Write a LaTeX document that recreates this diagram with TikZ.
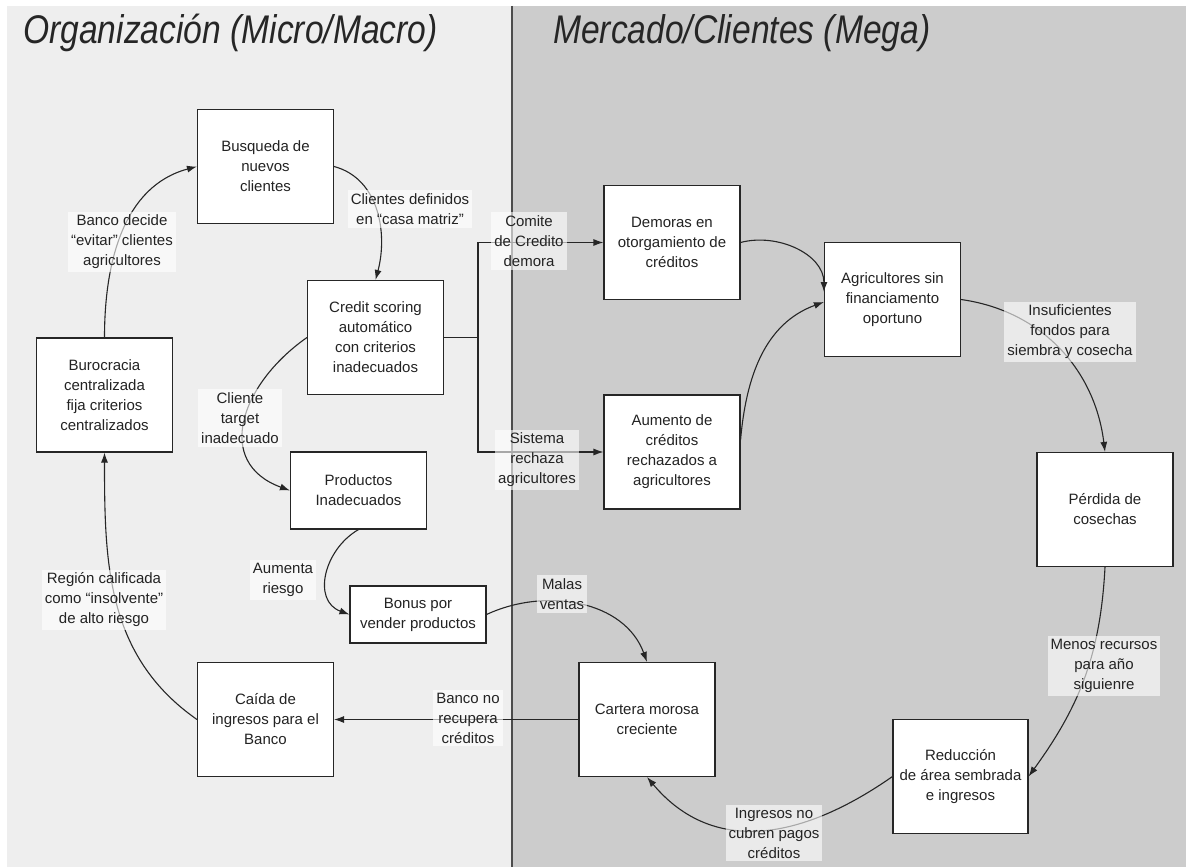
\documentclass[tikz,border=0pt]{standalone}
\usepackage{fontspec}
\setmainfont{Liberation Sans}
\newfontfamily\titlefont{Liberation Sans}[FakeStretch=0.84]
\usetikzlibrary{arrows.meta}
\definecolor{panelL}{RGB}{238,238,238}
\definecolor{panelR}{RGB}{204,204,204}
\definecolor{ink}{RGB}{35,35,35}
\tikzset{
  box/.style={draw=black!85, line width=1.1pt, fill=white, minimum width=136pt,
    minimum height=114pt, align=center, text=ink, inner sep=2pt,
    font=\fontsize{15}{20}\selectfont},
  lbl/.style={fill=white, fill opacity=0.6, text opacity=1, align=center, text=ink,
    inner sep=3pt, font=\fontsize{15}{20}\selectfont},
  link/.style={line width=1.1pt, draw=black!85, -{Latex[length=10pt,width=7pt]}},
  title/.style={anchor=base west, inner sep=0pt, text=black!85,
    font=\titlefont\itshape\fontsize{40}{44}\selectfont}
}
\begin{document}
\begin{tikzpicture}[x=1pt,y=1pt]
\useasboundingbox (0,0) rectangle (1186,-867);
\fill[white] (0,0) rectangle (1186,-867);
\fill[panelL] (7,-6) rectangle (512,-867);
\fill[panelR] (512,-6) rectangle (1186,-867);
\draw[line width=1.3pt, black!70] (512,-6) -- (512,-867);
\node[title] (torg) at (23,-44) {Organización (Micro/Macro)};
\node[title] (tmer) at (553,-44) {Mercado/Clientes (Mega)};

\node[box] (busq) at (265.5,-166.5) {Busqueda de\\nuevos\\clientes};
\node[box] (cred) at (375.5,-337.5) {Credit scoring\\automático\\con criterios\\inadecuados};
\node[box] (buro) at (104.5,-395) {Burocracia\\centralizada\\fija criterios\\centralizados};
\node[box, minimum height=77pt] (prod) at (358.5,-490.5) {Productos\\Inadecuados};
\node[box, minimum height=57pt] (bonus) at (418,-614.5) {Bonus por\\vender productos};
\node[box] (caida) at (265.5,-719.5) {Caída de\\ingresos para el\\Banco};
\node[box] (dem) at (672,-242.5) {Demoras en\\otorgamiento de\\créditos};
\node[box] (aum) at (672,-452) {Aumento de\\créditos\\rechazados a\\agricultores};
\node[box] (agr) at (892.5,-299.5) {Agricultores sin\\financiamento\\oportuno};
\node[box] (per) at (1105,-509.5) {Pérdida de\\cosechas};
\node[box] (car) at (647,-719.5) {Cartera morosa\\creciente};
\node[box, minimum width=135pt] (red) at (960.5,-776.5) {Reducción\\de área sembrada\\e ingresos};

\coordinate (split) at (478,-337.5);
\draw[line width=1.1pt, black!85] (cred.east) -- (split);
\draw[link] (split) |- (dem.west);
\draw[link] (split) |- (aum.west);
\draw[link] (buro.north) to[out=90,in=195] (busq.west);
\draw[link] (busq.east) to[out=-15,in=75] (cred.north);
\draw[link] (cred.west) to[out=215,in=160,looseness=1.35] (prod.west);
\draw[link] (prod.south) to[out=210,in=160,looseness=1.2] (bonus.west);
\draw[link] (bonus.east) to[out=25,in=110] (car.north);
\draw[link] (car.west) -- (caida.east);
\draw[link] (caida.west) to[out=145,in=-90] (buro.south);
\draw[link] (dem.east) to[out=15,in=90] ([yshift=7.5pt]agr.west);
\draw[link] ([yshift=12pt]aum.east) to[out=85,in=200] ([yshift=-2.5pt]agr.west);
\draw[link] (agr.east) to[out=-8,in=97] (per.north);
\draw[link] (per.south) to[out=-93,in=54] (red.east);
\draw[link] (red.west) to[out=215,in=-50,looseness=1.1] (car.south);

\node[lbl] (l1) at (122,-242) {Banco decide\\“evitar” clientes\\agricultores};
\node[lbl] (l2) at (410,-209) {Clientes definidos\\en “casa matriz”};
\node[lbl] (l3) at (240,-418) {Cliente\\target\\inadecuado};
\node[lbl] (l4) at (283,-580) {Aumenta\\riesgo};
\node[lbl] (l5) at (562,-594) {Malas\\ventas};
\node[lbl] (l6) at (468,-718) {Banco no\\recupera\\créditos};
\node[lbl] (l7) at (104,-600) {Región calificada\\como “insolvente”\\de alto riesgo};
\node[lbl] (l8) at (529,-241) {Comite\\de Credito\\demora};
\node[lbl] (l9) at (537,-460) {Sistema\\rechaza\\agricultores};
\node[lbl] (l10) at (1070,-332) {Insuficientes\\fondos para\\siembra y cosecha};
\node[lbl] (l11) at (1104,-666) {Menos recursos\\para año\\siguienre};
\node[lbl] (l12) at (774,-833) {Ingresos no\\cubren pagos\\créditos};
\end{tikzpicture}
\end{document}
